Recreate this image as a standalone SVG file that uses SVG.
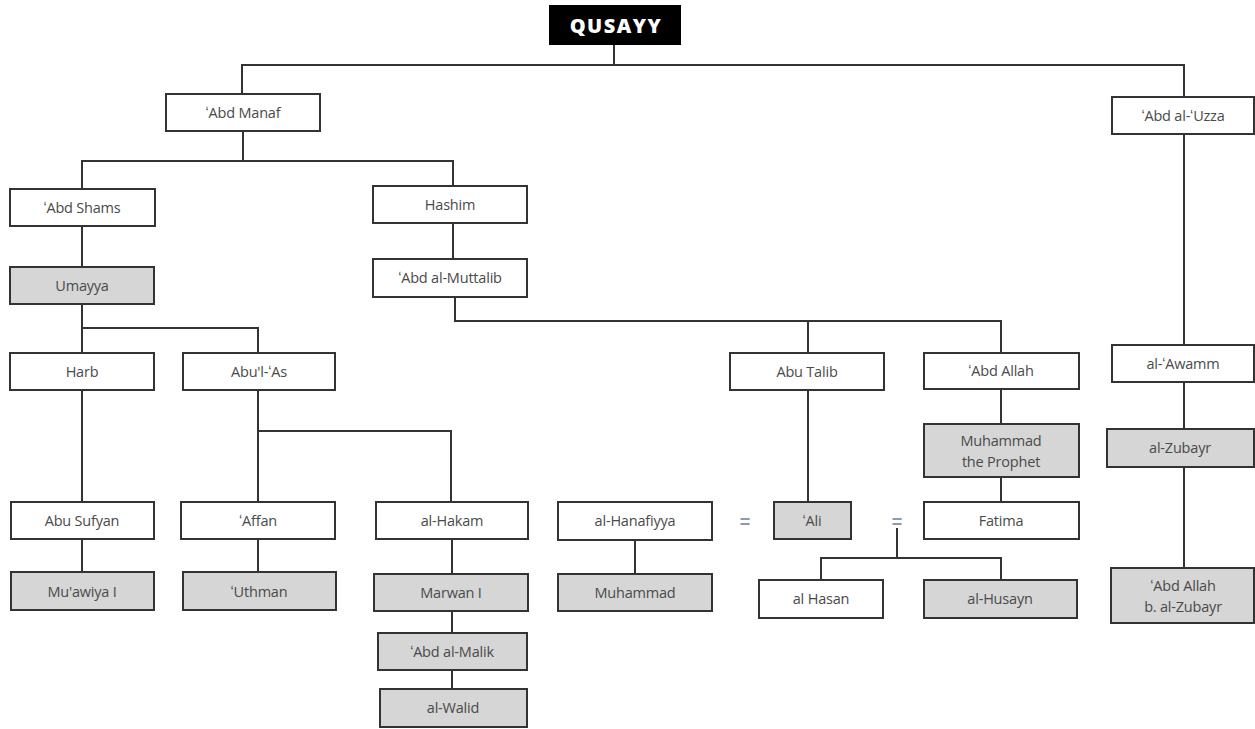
<svg xmlns="http://www.w3.org/2000/svg" width="1255" height="729" viewBox="0 0 1255 729">
<style>
.b{fill:#fff;stroke:#333;stroke-width:2}
.g{fill:#d6d6d6;stroke:#333;stroke-width:2}
.t{font-family:"Open Sans","Liberation Sans",sans-serif;font-size:14.5px;fill:#4a4a4a;text-anchor:middle;letter-spacing:-0.2px}
.c{fill:none;stroke:#333;stroke-width:2}
.eq{font-family:"Liberation Sans",sans-serif;font-size:18px;fill:#8a9ab0;text-anchor:middle;font-weight:bold}
</style>
<rect width="1255" height="729" fill="#fff"/>
<g id="connectors" class="c">
<path d="M614,45V65M242,94V65H1184V97"/>
<path d="M243,131V161M82,189V161H453V186"/>
<path d="M82,226V267"/>
<path d="M82,304V353M82,328H258V353"/>
<path d="M82,390V502M82,539V572"/>
<path d="M258,390V502M258,431H451V502M258,539V572"/>
<path d="M452,539V574M452,611V633M452,670V689"/>
<path d="M453,224V259"/>
<path d="M455,297V321H1001V353M808,321V353"/>
<path d="M808,390V502"/>
<path d="M1001,389V424M1001,477V502"/>
<path d="M635,540V574"/>
<path d="M897,528V558M821,580V558H1001V580"/>
<path d="M1184,134V345M1184,382V429M1184,467V568"/>
</g>
<g id="qusayy"><rect x="549" y="5" width="132" height="40" fill="#000"/><text x="616" y="33" font-family="'Open Sans','Liberation Sans',sans-serif" font-weight="800" font-size="20" fill="#fff" text-anchor="middle" letter-spacing="1.5">QUSAYY</text></g>
<g id="abd-manaf"><rect class="b" x="166" y="94" width="154" height="37"/><text class="t" x="243" y="118">ʻAbd Manaf</text></g>
<g id="abd-al-uzza"><rect class="b" x="1112" y="97" width="142" height="37"/><text class="t" x="1183" y="121">ʻAbd al-ʻUzza</text></g>
<g id="abd-shams"><rect class="b" x="10" y="189" width="145" height="37"/><text class="t" x="82" y="213">ʻAbd Shams</text></g>
<g id="hashim"><rect class="b" x="373" y="186" width="154" height="37"/><text class="t" x="450" y="210">Hashim</text></g>
<g id="umayya"><rect class="g" x="10" y="267" width="144" height="37"/><text class="t" x="82" y="291">Umayya</text></g>
<g id="abd-al-muttalib"><rect class="b" x="373" y="259" width="154" height="38"/><text class="t" x="450" y="283">ʻAbd al-Muttalib</text></g>
<g id="harb"><rect class="b" x="10" y="353" width="144" height="37"/><text class="t" x="82" y="377">Harb</text></g>
<g id="abul-as"><rect class="b" x="183" y="353" width="152" height="37"/><text class="t" x="259" y="377">Abu'l-ʻAs</text></g>
<g id="abu-talib"><rect class="b" x="730" y="353" width="154" height="37"/><text class="t" x="807" y="377">Abu Talib</text></g>
<g id="abd-allah"><rect class="b" x="924" y="353" width="155" height="36"/><text class="t" x="1001" y="376">ʻAbd Allah</text></g>
<g id="al-awamm"><rect class="b" x="1112" y="345" width="142" height="37"/><text class="t" x="1183" y="369">al-ʻAwamm</text></g>
<g id="muhammad-prophet"><rect class="g" x="924" y="424" width="155" height="53"/><text class="t" x="1001" y="446">Muhammad</text><text class="t" x="1001" y="467">the Prophet</text></g>
<g id="al-zubayr"><rect class="g" x="1107" y="429" width="147" height="38"/><text class="t" x="1180" y="453">al-Zubayr</text></g>
<g id="abu-sufyan"><rect class="b" x="11" y="502" width="143" height="37"/><text class="t" x="82" y="526">Abu Sufyan</text></g>
<g id="affan"><rect class="b" x="181" y="502" width="154" height="37"/><text class="t" x="258" y="526">ʻAffan</text></g>
<g id="al-hakam"><rect class="b" x="376" y="502" width="152" height="37"/><text class="t" x="452" y="526">al-Hakam</text></g>
<g id="al-hanafiyya"><rect class="b" x="558" y="502" width="154" height="38"/><text class="t" x="635" y="526">al-Hanafiyya</text></g>
<text class="eq" x="745" y="528">=</text>
<g id="ali"><rect class="g" x="774" y="502" width="77" height="37"/><text class="t" x="812" y="526">ʻAli</text></g>
<text class="eq" x="897" y="528">=</text>
<g id="fatima"><rect class="b" x="924" y="502" width="155" height="37"/><text class="t" x="1001" y="526">Fatima</text></g>
<g id="muawiya"><rect class="g" x="11" y="572" width="143" height="38"/><text class="t" x="82" y="597">Mu'awiya I</text></g>
<g id="uthman"><rect class="g" x="183" y="572" width="153" height="38"/><text class="t" x="259" y="597">ʻUthman</text></g>
<g id="marwan"><rect class="g" x="374" y="574" width="154" height="37"/><text class="t" x="451" y="598">Marwan I</text></g>
<g id="muhammad"><rect class="g" x="558" y="574" width="154" height="37"/><text class="t" x="635" y="598">Muhammad</text></g>
<g id="al-hasan"><rect class="b" x="759" y="580" width="124" height="38"/><text class="t" x="821" y="604">al Hasan</text></g>
<g id="al-husayn"><rect class="g" x="924" y="580" width="153" height="38"/><text class="t" x="1000" y="604">al-Husayn</text></g>
<g id="abd-allah-zubayr"><rect class="g" x="1111" y="568" width="143" height="55"/><text class="t" x="1183" y="591">ʻAbd Allah</text><text class="t" x="1183" y="612">b. al-Zubayr</text></g>
<g id="abd-al-malik"><rect class="g" x="378" y="633" width="149" height="37"/><text class="t" x="452" y="657">ʻAbd al-Malik</text></g>
<g id="al-walid"><rect class="g" x="380" y="689" width="147" height="38"/><text class="t" x="453" y="713">al-Walid</text></g>
</svg>
